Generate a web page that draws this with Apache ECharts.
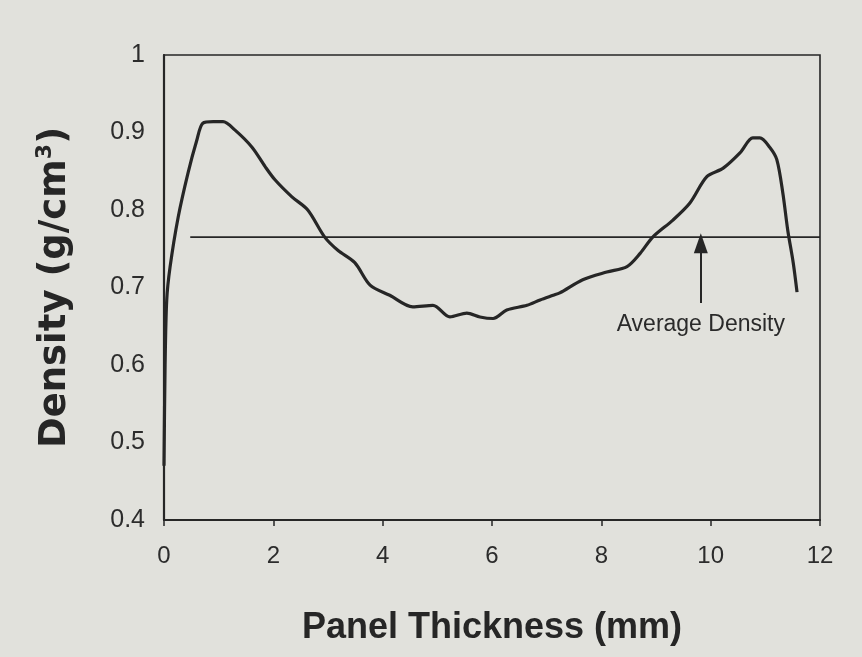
<!DOCTYPE html>
<html>
<head>
<meta charset="utf-8">
<script src="https://cdn.jsdelivr.net/npm/echarts@6/dist/echarts.min.js"></script>
<style>
html,body{margin:0;padding:0;background:#e1e1dc;}
#c{width:862px;height:657px;}
</style>
</head>
<body>
<div id="c"></div>
<script>
// Panel thickness (mm) and density (g/cm3)
var thickness = [0.0, 0.02, 0.05, 0.11, 0.26, 0.44, 0.60, 0.71, 0.90, 1.08, 1.30, 1.61, 1.85, 2.03, 2.34, 2.63, 2.94, 3.18, 3.49, 3.77, 4.13, 4.55, 4.92, 5.23, 5.54, 5.78, 6.02, 6.27, 6.64, 6.88, 7.12, 7.24, 7.66, 8.10, 8.47, 8.71, 8.94, 9.31, 9.62, 9.93, 10.23, 10.54, 10.77, 10.90, 11.08, 11.21, 11.32, 11.41, 11.51, 11.58];
var density = [0.47, 0.60, 0.684, 0.726, 0.791, 0.848, 0.890, 0.912, 0.914, 0.914, 0.903, 0.881, 0.856, 0.839, 0.817, 0.800, 0.765, 0.748, 0.732, 0.703, 0.690, 0.675, 0.677, 0.662, 0.667, 0.662, 0.660, 0.671, 0.677, 0.684, 0.690, 0.693, 0.710, 0.720, 0.727, 0.744, 0.765, 0.787, 0.809, 0.843, 0.854, 0.874, 0.893, 0.893, 0.881, 0.865, 0.822, 0.774, 0.732, 0.694];
var averageX = [0.48, 12];
var averageY = [0.765, 0.765];
var arrowX = 9.82;
var arrowFromY = 0.68;
var arrowToY = 0.757;
var annotation = 'Average Density';
var xTicks = [0, 2, 4, 6, 8, 10, 12];
var yTicks = [0.4, 0.5, 0.6, 0.7, 0.8, 0.9, 1];

var ink = '#262626';
var curve = thickness.map(function (t, i) { return [t, density[i]]; });
var avg = averageX.map(function (t, i) { return [t, averageY[i]]; });

var chart = echarts.init(document.getElementById('c'));
chart.setOption({
  backgroundColor: '#e1e1dc',
  animation: false,
  grid: {left: 164, right: 42, top: 55, bottom: 137, show: true, borderColor: ink, borderWidth: 1.6, backgroundColor: 'transparent'},
  xAxis: {
    type: 'value', min: 0, max: 12, interval: 2,
    name: 'Panel Thickness (mm)', nameLocation: 'middle', nameGap: 90,
    nameTextStyle: {fontFamily: 'Liberation Sans', fontWeight: 'bold', fontSize: 36, color: ink},
    axisLine: {show: true, lineStyle: {color: ink, width: 2.2}},
    axisTick: {show: true, length: 6, lineStyle: {color: ink, width: 1.5}},
    axisLabel: {fontFamily: 'Liberation Sans', fontSize: 24, color: '#2c2c2c', margin: 24,
      formatter: function (v) { return xTicks.indexOf(v) >= 0 ? String(v) : ''; }},
    splitLine: {show: false}
  },
  yAxis: {
    type: 'value', min: 0.4, max: 1, interval: 0.1,
    name: '{a|Density (g/cm}{s|3}{a|)}', nameLocation: 'middle', nameGap: 88, nameRotate: 90,
    nameTextStyle: {
      rich: {
        a: {fontFamily: 'DejaVu Sans', fontWeight: 'bold', fontSize: 37, color: ink, lineHeight: 42},
        s: {fontFamily: 'DejaVu Sans', fontWeight: 'bold', fontSize: 22, color: ink, verticalAlign: 'top', lineHeight: 42, padding: [0, 0, 18, 0]}
      }
    },
    axisLine: {show: true, lineStyle: {color: ink, width: 2.2}},
    axisTick: {show: false},
    axisLabel: {fontFamily: 'Liberation Sans', fontSize: 25, color: '#2c2c2c', margin: 19,
      formatter: function (v) {
        for (var i = 0; i < yTicks.length; i++) { if (Math.abs(yTicks[i] - v) < 1e-6) return String(yTicks[i]); }
        return '';
      }},
    splitLine: {show: false}
  },
  series: [
    {
      type: 'line', data: curve, showSymbol: false, smooth: 0.3,
      lineStyle: {color: ink, width: 3.2}
    },
    {
      type: 'line', data: avg, showSymbol: false,
      lineStyle: {color: ink, width: 1.6},
      markLine: {
        silent: true,
        symbol: ['none', 'triangle'], symbolSize: [14, 20],
        lineStyle: {color: ink, width: 2, type: 'solid'},
        label: {show: true, position: 'start', formatter: annotation, distance: 10,
          fontFamily: 'Liberation Sans', fontSize: 23, color: '#2a2a2a'},
        data: [[{coord: [arrowX, arrowFromY]}, {coord: [arrowX, arrowToY]}]]
      }
    }
  ]
});
</script>
</body>
</html>
